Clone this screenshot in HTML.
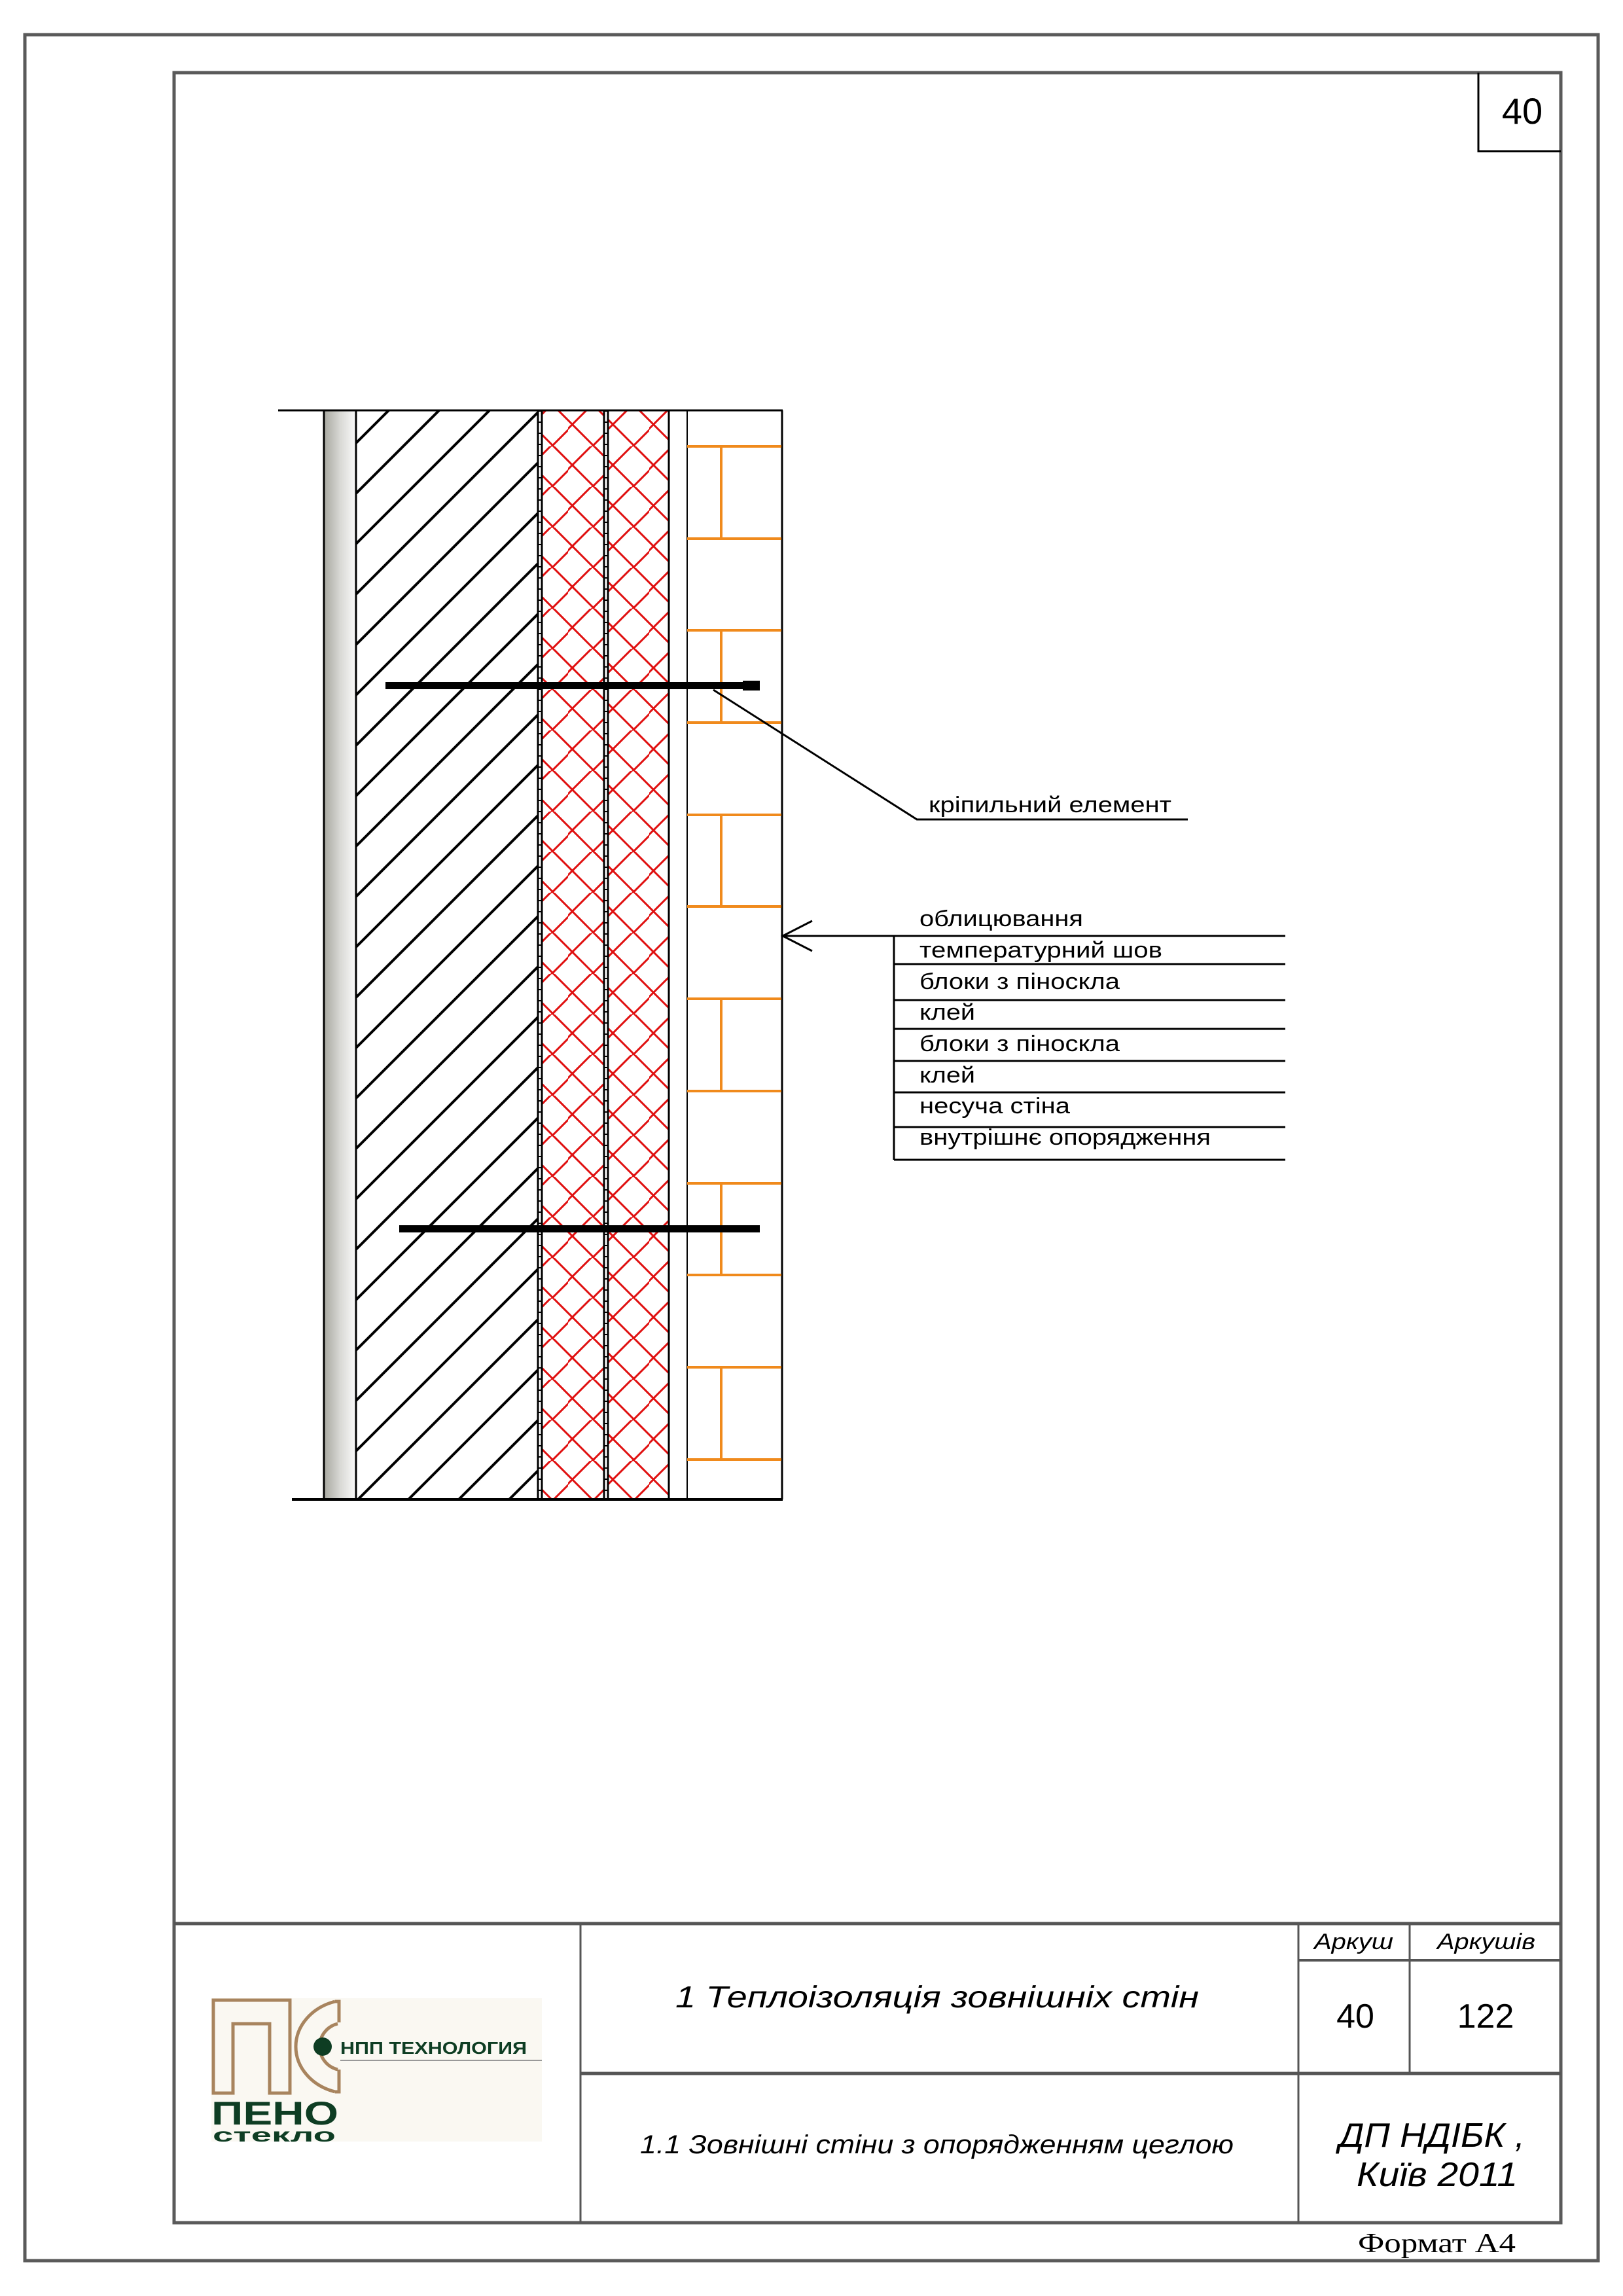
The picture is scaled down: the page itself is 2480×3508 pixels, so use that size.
<!DOCTYPE html>
<html><head><meta charset="utf-8"><style>
html,body{margin:0;padding:0;background:#fff}
svg{display:block}
text{font-family:"Liberation Sans",Arial,sans-serif}
</style></head><body>
<svg width="2480" height="3508" viewBox="0 0 2480 3508" xmlns="http://www.w3.org/2000/svg">
<defs>
<pattern id="rx" patternUnits="userSpaceOnUse" x="0" y="0" width="62" height="62">
<path d="M-2,37 L37,-2 M35,64 L64,35 M-2,20 L40,62 M40,0 L64,24 M-2,-42 L64,24" stroke="#e01010" stroke-width="3" fill="none"/>
</pattern>
<linearGradient id="gs" x1="0" x2="1" y1="0" y2="0">
<stop offset="0" stop-color="#a8a8a0"/><stop offset="0.5" stop-color="#d8d8d4"/><stop offset="1" stop-color="#fafafa"/>
</linearGradient>
<clipPath id="hc"><rect x="544" y="627" width="278" height="1664"/></clipPath>
</defs>
<rect width="2480" height="3508" fill="#fff"/>
<!-- frames -->
<rect x="38" y="53" width="2404" height="3401" fill="none" stroke="#5a5a5a" stroke-width="5"/>
<rect x="266" y="111" width="2119" height="3285" fill="none" stroke="#5a5a5a" stroke-width="5"/>
<path d="M2259,111 V231 H2385" fill="none" stroke="#000" stroke-width="3"/>
<text x="2326" y="189" font-size="56" text-anchor="middle">40</text>

<!-- wall drawing -->
<rect x="495" y="627" width="49" height="1664" fill="url(#gs)"/>
<g clip-path="url(#hc)" stroke="#000" stroke-width="4" fill="none">
<path d="M544,677L822,399M544,754L822,476M544,831L822,553M544,908L822,630M544,985L822,707M544,1062L822,784M544,1139L822,861M544,1216L822,938M544,1293L822,1015M544,1370L822,1092M544,1447L822,1169M544,1524L822,1246M544,1601L822,1323M544,1678L822,1400M544,1755L822,1477M544,1832L822,1554M544,1909L822,1631M544,1986L822,1708M544,2063L822,1785M544,2140L822,1862M544,2217L822,1939M544,2294L822,2016M544,2371L822,2093M544,2448L822,2170M544,2525L822,2247"/>
</g>
<rect x="829" y="627" width="93" height="1664" fill="url(#rx)"/>
<rect x="930" y="627" width="92" height="1664" fill="url(#rx)"/>
<g stroke="#000" fill="none">
<line x1="495" y1="627" x2="495" y2="2291" stroke-width="3"/>
<line x1="544" y1="627" x2="544" y2="2291" stroke-width="3"/>
<line x1="822" y1="627" x2="822" y2="2291" stroke-width="3"/>
<line x1="828" y1="627" x2="828" y2="2291" stroke-width="3"/>
<line x1="825" y1="627" x2="825" y2="2291" stroke-width="3" stroke-dasharray="2,15"/>
<line x1="923" y1="627" x2="923" y2="2291" stroke-width="3"/>
<line x1="929" y1="627" x2="929" y2="2291" stroke-width="3"/>
<line x1="926" y1="627" x2="926" y2="2291" stroke-width="3" stroke-dasharray="2,15"/>
<line x1="1022" y1="627" x2="1022" y2="2291" stroke-width="3"/>
<line x1="1050" y1="627" x2="1050" y2="2291" stroke-width="2"/>
<line x1="1195" y1="627" x2="1195" y2="2291" stroke-width="3"/>
<line x1="425" y1="627" x2="1196" y2="627" stroke-width="3"/>
<line x1="446" y1="2291" x2="1196" y2="2291" stroke-width="4"/>
</g>
<g stroke="#f08a1c" stroke-width="4" fill="none">
<path d="M1050,682H1194M1050,823H1194M1050,963H1194M1050,1104H1194M1050,1245H1194M1050,1385H1194M1050,1526H1194M1050,1667H1194M1050,1808H1194M1050,1948H1194M1050,2089H1194M1050,2230H1194"/>
<path d="M1102,682V823M1102,963V1104M1102,1245V1385M1102,1526V1667M1102,1808V1948M1102,2089V2230"/>
</g>
<!-- bolts -->
<rect x="589" y="1042" width="572" height="11" fill="#000"/>
<rect x="1135" y="1040" width="26" height="15" fill="#000"/>
<rect x="610" y="1872" width="551" height="11" fill="#000"/>
<!-- leaders -->
<g stroke="#000" stroke-width="3" fill="none">
<path d="M1090,1054 L1401,1252 H1815"/>
<path d="M1241,1407 L1196,1430 L1241,1453 M1196,1430 H1964"/>
<path d="M1366,1430 V1772 M1366,1473H1964 M1366,1528H1964 M1366,1572H1964 M1366,1621H1964 M1366,1669H1964 M1366,1722H1964 M1366,1772H1964"/>
</g>
<g font-size="34">
<text x="1419" y="1241" textLength="371" lengthAdjust="spacingAndGlyphs">кріпильний елемент</text>
<text x="1405" y="1415" textLength="250" lengthAdjust="spacingAndGlyphs">облицювання</text>
<text x="1405" y="1463" textLength="371" lengthAdjust="spacingAndGlyphs">температурний шов</text>
<text x="1405" y="1511" textLength="306" lengthAdjust="spacingAndGlyphs">блоки з піноскла</text>
<text x="1405" y="1558" textLength="85" lengthAdjust="spacingAndGlyphs">клей</text>
<text x="1405" y="1606" textLength="306" lengthAdjust="spacingAndGlyphs">блоки з піноскла</text>
<text x="1405" y="1654" textLength="85" lengthAdjust="spacingAndGlyphs">клей</text>
<text x="1405" y="1701" textLength="230" lengthAdjust="spacingAndGlyphs">несуча стіна</text>
<text x="1405" y="1749" textLength="445" lengthAdjust="spacingAndGlyphs">внутрішнє опорядження</text>
</g>

<!-- title block -->
<g stroke="#555" fill="none">
<line x1="266" y1="2939" x2="2385" y2="2939" stroke-width="5"/>
<line x1="887" y1="2939" x2="887" y2="3396" stroke-width="3"/>
<line x1="1984" y1="2939" x2="1984" y2="3396" stroke-width="3"/>
<line x1="2154" y1="2939" x2="2154" y2="3168" stroke-width="3"/>
<line x1="1984" y1="2995" x2="2385" y2="2995" stroke-width="4"/>
<line x1="887" y1="3168" x2="2385" y2="3168" stroke-width="5"/>
</g>
<g font-style="italic">
<text x="1032" y="3067" font-size="46" textLength="800" lengthAdjust="spacingAndGlyphs">1 Теплоізоляція зовнішніх стін</text>
<text x="978" y="3290" font-size="40" textLength="907" lengthAdjust="spacingAndGlyphs">1.1 Зовнішні стіни з опорядженням цеглою</text>
<text x="2008" y="2978" font-size="34" textLength="121" lengthAdjust="spacingAndGlyphs">Аркуш</text>
<text x="2196" y="2978" font-size="34" textLength="150" lengthAdjust="spacingAndGlyphs">Аркушів</text>
<text x="2046" y="3280" font-size="52" textLength="284" lengthAdjust="spacingAndGlyphs">ДП НДІБК ,</text>
<text x="2073" y="3340" font-size="52" textLength="246" lengthAdjust="spacingAndGlyphs">Київ 2011</text>
</g>
<text x="2071" y="3098" font-size="52" text-anchor="middle">40</text>
<text x="2270" y="3098" font-size="52" text-anchor="middle">122</text>
<text x="2075" y="3441" font-size="42" textLength="241" lengthAdjust="spacingAndGlyphs" style="font-family:'Liberation Serif',serif">Формат А4</text>

<!-- logo -->
<rect x="323" y="3053" width="505" height="219" fill="#faf8f2"/>
<g fill="none" stroke="#a8845e" stroke-width="5">
<path d="M326,3198 V3056 H443 V3198 H412 V3092 H356 V3198 Z"/>
<path d="M512,3058 A84,72 0 0 0 512,3196 M512,3196 H518 V3162 M518,3090 V3058 H512"/>
<path d="M516,3092 A36,36 0 0 0 516,3162"/>
</g>
<circle cx="493" cy="3127" r="14" fill="#0e3d23"/>
<text x="520" y="3138" font-size="26" font-weight="bold" fill="#0e3d23" textLength="285" lengthAdjust="spacingAndGlyphs">НПП  ТЕХНОЛОГИЯ</text>
<line x1="520" y1="3148" x2="828" y2="3148" stroke="#999" stroke-width="2"/>
<text x="323" y="3246" font-size="50" font-weight="bold" fill="#0e3d23" textLength="194" lengthAdjust="spacingAndGlyphs">ПЕНО</text>
<text x="325" y="3272" font-size="30" font-weight="bold" fill="#0e3d23" textLength="188" lengthAdjust="spacingAndGlyphs">стекло</text>
</svg>
</body></html>
